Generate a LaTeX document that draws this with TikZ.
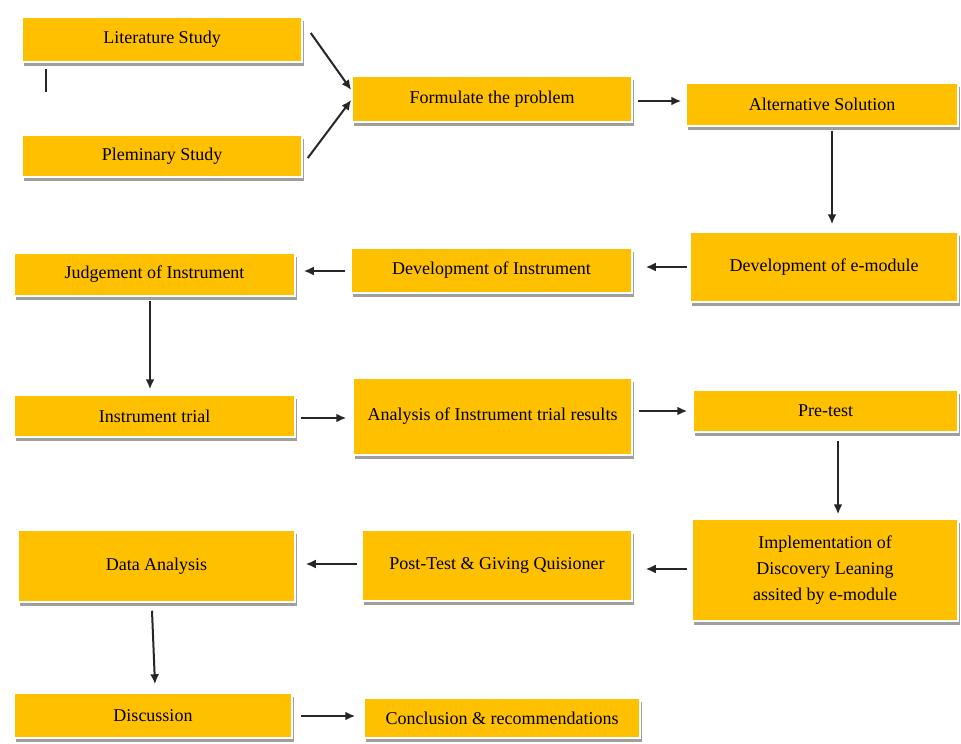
\documentclass[tikz,border=0pt]{standalone}
\usepackage{fontspec}
\setmainfont{Liberation Serif}
\usetikzlibrary{arrows.meta,shadows}
\definecolor{boxyellow}{HTML}{FFC000}
\definecolor{arrowgray}{HTML}{262626}
\begin{document}
\begin{tikzpicture}[x=1pt,y=-1pt,
  stepbox/.style={fill=boxyellow, draw=white, line width=1.5pt, align=center,
    inner sep=2pt, font=\fontsize{18}{26}\selectfont, text=black,
    drop shadow={shadow xshift=1.5pt, shadow yshift=-4pt, fill=gray!75, opacity=1}},
  arr/.style={draw=arrowgray, line width=2pt, -{Latex[length=10pt,width=9pt]}},
  tickline/.style={draw=arrowgray, line width=2.2pt}]
\useasboundingbox[fill=white] (0,0) rectangle (961,744);

\node[stepbox, minimum width=280pt, minimum height=45pt] (lit) at (162,39.5) {Literature Study};
\node[stepbox, minimum width=280pt, minimum height=42pt] (plem) at (162,156) {Pleminary Study};
\node[stepbox, minimum width=280pt, minimum height=46pt] (form) at (492,99) {Formulate the problem};
\node[stepbox, minimum width=272pt, minimum height=43pt] (alt) at (822,104.5) {Alternative Solution};

\node[stepbox, minimum width=281pt, minimum height=43pt] (judg) at (154.5,274.5) {Judgement of Instrument};
\node[stepbox, minimum width=281pt, minimum height=45pt] (devi) at (491.5,270.5) {Development of Instrument};
\node[stepbox, minimum width=268pt, minimum height=70pt] (devm) at (824,267) {Development of e-module};

\node[stepbox, minimum width=281pt, minimum height=42pt] (trial) at (154.5,416) {Instrument trial};
\node[stepbox, minimum width=279pt, minimum height=77pt] (anal) at (492.5,416.5) {Analysis of Instrument trial results};
\node[stepbox, minimum width=265pt, minimum height=42pt] (pre) at (825.5,411) {Pre-test};

\node[stepbox, minimum width=277pt, minimum height=72pt] (data) at (156.5,566) {Data Analysis};
\node[stepbox, minimum width=270pt, minimum height=71pt] (post) at (497,565.5) {Post-Test \& Giving Quisioner};
\node[stepbox, minimum width=266pt, minimum height=102pt] (impl) at (825,570) {Implementation of\\Discovery Leaning\\assited by e-module};

\node[stepbox, minimum width=278pt, minimum height=45pt] (disc) at (153,715.5) {Discussion};
\node[stepbox, minimum width=276pt, minimum height=40pt] (conc) at (502,718) {Conclusion \& recommendations};

\coordinate (tickend) at (46,92);
\draw[tickline] ([xshift=-116pt,yshift=-6pt]lit.south) -- (tickend);

\draw[arr] ([xshift=8pt,yshift=6.5pt]lit.east) -- ([yshift=9pt]form.west);
\draw[arr] ([xshift=5pt,yshift=-2pt]plem.east) -- ([yshift=-1pt]form.west);
\draw[arr] ([xshift=5pt,yshift=-2pt]form.east) -- ([xshift=-4pt,yshift=3.5pt]alt.west);
\draw[arr] ([xshift=10pt,yshift=-4pt]alt.south) -- ([xshift=8pt,yshift=7pt]devm.north);
\draw[arr] ([xshift=-2pt]devm.west) -- ([xshift=13pt,yshift=3.5pt]devi.east);
\draw[arr] ([xshift=-5pt,yshift=-0.5pt]devi.west) -- ([xshift=8pt,yshift=3.5pt]judg.east);
\draw[arr] ([xshift=-4.5pt,yshift=-4pt]judg.south) -- ([xshift=-4.5pt,yshift=5pt]trial.north);
\draw[arr] ([xshift=5pt,yshift=-2pt]trial.east) -- ([xshift=-6pt,yshift=-1.5pt]anal.west);
\draw[arr] ([xshift=6pt,yshift=5.5pt]anal.east) -- ([xshift=-5pt]pre.west);
\draw[arr] ([xshift=12.5pt,yshift=-8pt]pre.south) -- ([xshift=13pt,yshift=4pt]impl.north);
\draw[arr] ([xshift=-4pt,yshift=1pt]impl.west) -- ([xshift=13pt,yshift=-3.5pt]post.east);
\draw[arr] ([xshift=-4pt,yshift=1.5pt]post.west) -- ([xshift=10pt,yshift=2pt]data.east);
\draw[arr] ([xshift=-4.5pt,yshift=-8pt]data.south) -- ([xshift=2pt,yshift=8pt]disc.north);
\draw[arr] ([xshift=8pt,yshift=-0.5pt]disc.east) -- ([xshift=-8pt,yshift=2pt]conc.west);
\end{tikzpicture}
\end{document}
